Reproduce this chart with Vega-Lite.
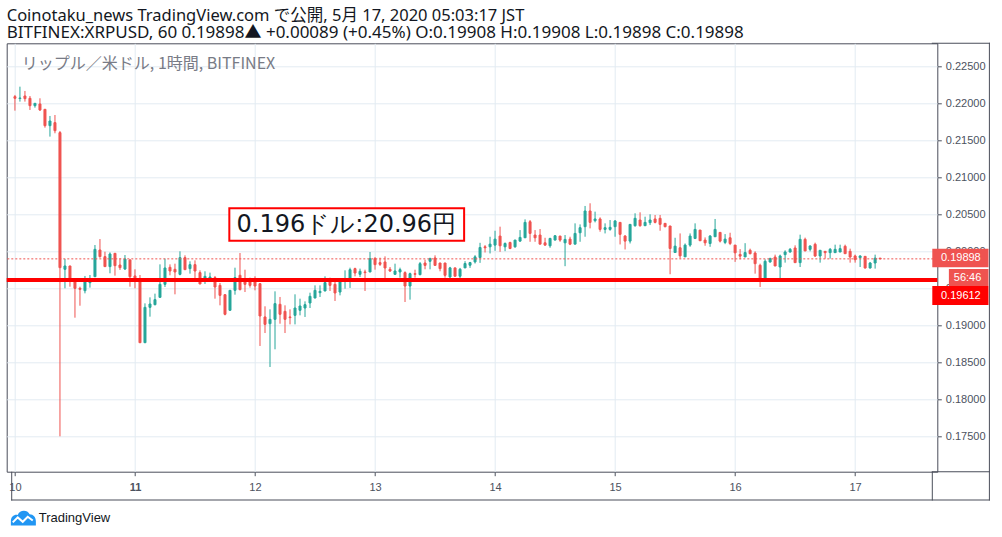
{
  "$schema": "https://vega.github.io/schema/vega-lite/v6.json",
  "description": "XRPUSD 1h candles, Bitfinex, 10-17 May 2020",
  "autosize": "none",
  "width": 930.6,
  "height": 428.4,
  "padding": {"left": 6.7, "top": 43.3, "right": 64.7, "bottom": 65.3},
  "background": "white",
  "title": {
    "text": "Coinotaku_news TradingView.com で公開, 5月 17, 2020 05:03:17 JST",
    "subtitle": "BITFINEX:XRPUSD, 60 0.19898▲ +0.00089 (+0.45%) O:0.19908 H:0.19908 L:0.19898 C:0.19898",
    "anchor": "start",
    "frame": "group",
    "font": "Noto Sans, Noto Sans CJK JP",
    "fontSize": 16.5,
    "fontWeight": "normal",
    "color": "#131722",
    "subtitleFont": "Noto Sans, Noto Sans CJK JP",
    "subtitleFontSize": 17,
    "subtitleColor": "#131722",
    "subtitlePadding": 0,
    "offset": 2
  },
  "config": {
    "view": {"stroke": "#4a4e5a", "strokeWidth": 1},
    "axis": {
      "labelFont": "Liberation Sans",
      "labelFontSize": 11,
      "labelColor": "#4c525e",
      "tickColor": "#4c525e",
      "gridColor": "#e3ebf2",
      "domain": false
    }
  },
  "datasets": {
    "candles": [
      {"t": "2020-05-10T00:00", "o": 0.2209, "h": 0.22113, "l": 0.21901, "c": 0.22068},
      {"t": "2020-05-10T01:00", "o": 0.22065, "h": 0.22225, "l": 0.22023, "c": 0.22072},
      {"t": "2020-05-10T02:00", "o": 0.22099, "h": 0.22167, "l": 0.22023, "c": 0.22063},
      {"t": "2020-05-10T03:00", "o": 0.22068, "h": 0.22099, "l": 0.2191, "c": 0.21968},
      {"t": "2020-05-10T04:00", "o": 0.21968, "h": 0.22002, "l": 0.21941, "c": 0.22},
      {"t": "2020-05-10T05:00", "o": 0.21991, "h": 0.22068, "l": 0.21896, "c": 0.2191},
      {"t": "2020-05-10T06:00", "o": 0.21919, "h": 0.21921, "l": 0.21671, "c": 0.21698},
      {"t": "2020-05-10T07:00", "o": 0.21698, "h": 0.21829, "l": 0.2155, "c": 0.21761},
      {"t": "2020-05-10T08:00", "o": 0.21739, "h": 0.21842, "l": 0.21595, "c": 0.2163},
      {"t": "2020-05-10T09:00", "o": 0.21604, "h": 0.21626, "l": 0.175, "c": 0.19779},
      {"t": "2020-05-10T10:00", "o": 0.19757, "h": 0.19896, "l": 0.195, "c": 0.19802},
      {"t": "2020-05-10T11:00", "o": 0.19802, "h": 0.19804, "l": 0.19522, "c": 0.19626},
      {"t": "2020-05-10T12:00", "o": 0.19626, "h": 0.19628, "l": 0.19103, "c": 0.195},
      {"t": "2020-05-10T13:00", "o": 0.195, "h": 0.19522, "l": 0.19265, "c": 0.19486},
      {"t": "2020-05-10T14:00", "o": 0.19468, "h": 0.19667, "l": 0.19432, "c": 0.1959},
      {"t": "2020-05-10T15:00", "o": 0.19576, "h": 0.1968, "l": 0.19509, "c": 0.1959},
      {"t": "2020-05-10T16:00", "o": 0.19657, "h": 0.20085, "l": 0.19655, "c": 0.20027},
      {"t": "2020-05-10T17:00", "o": 0.20018, "h": 0.20166, "l": 0.19914, "c": 0.19928},
      {"t": "2020-05-10T18:00", "o": 0.19928, "h": 0.19995, "l": 0.19791, "c": 0.19793},
      {"t": "2020-05-10T19:00", "o": 0.19793, "h": 0.19986, "l": 0.19703, "c": 0.19964},
      {"t": "2020-05-10T20:00", "o": 0.19973, "h": 0.19975, "l": 0.19671, "c": 0.19806},
      {"t": "2020-05-10T21:00", "o": 0.19815, "h": 0.19905, "l": 0.19748, "c": 0.19779},
      {"t": "2020-05-10T22:00", "o": 0.19761, "h": 0.1995, "l": 0.19748, "c": 0.19896},
      {"t": "2020-05-10T23:00", "o": 0.19883, "h": 0.19896, "l": 0.19522, "c": 0.19657},
      {"t": "2020-05-11T00:00", "o": 0.19667, "h": 0.19757, "l": 0.195, "c": 0.19612},
      {"t": "2020-05-11T01:00", "o": 0.19612, "h": 0.1968, "l": 0.18765, "c": 0.18765},
      {"t": "2020-05-11T02:00", "o": 0.18765, "h": 0.19297, "l": 0.18763, "c": 0.19243},
      {"t": "2020-05-11T03:00", "o": 0.19243, "h": 0.19378, "l": 0.19117, "c": 0.19288},
      {"t": "2020-05-11T04:00", "o": 0.19279, "h": 0.19428, "l": 0.1927, "c": 0.19347},
      {"t": "2020-05-11T05:00", "o": 0.19378, "h": 0.19824, "l": 0.19376, "c": 0.19554},
      {"t": "2020-05-11T06:00", "o": 0.19554, "h": 0.19901, "l": 0.19518, "c": 0.19775},
      {"t": "2020-05-11T07:00", "o": 0.19784, "h": 0.19824, "l": 0.19676, "c": 0.19734},
      {"t": "2020-05-11T08:00", "o": 0.19757, "h": 0.19833, "l": 0.19419, "c": 0.19721},
      {"t": "2020-05-11T09:00", "o": 0.19689, "h": 0.2, "l": 0.19676, "c": 0.19914},
      {"t": "2020-05-11T10:00", "o": 0.19914, "h": 0.19946, "l": 0.1975, "c": 0.19752},
      {"t": "2020-05-11T11:00", "o": 0.19766, "h": 0.19865, "l": 0.19698, "c": 0.1982},
      {"t": "2020-05-11T12:00", "o": 0.1982, "h": 0.19878, "l": 0.19631, "c": 0.19734},
      {"t": "2020-05-11T13:00", "o": 0.19712, "h": 0.19743, "l": 0.19557, "c": 0.19559},
      {"t": "2020-05-11T14:00", "o": 0.19617, "h": 0.1973, "l": 0.19559, "c": 0.19662},
      {"t": "2020-05-11T15:00", "o": 0.1964, "h": 0.19712, "l": 0.19631, "c": 0.19653},
      {"t": "2020-05-11T16:00", "o": 0.19644, "h": 0.19667, "l": 0.1936, "c": 0.19518},
      {"t": "2020-05-11T17:00", "o": 0.1954, "h": 0.19572, "l": 0.1927, "c": 0.19405},
      {"t": "2020-05-11T18:00", "o": 0.19414, "h": 0.19416, "l": 0.19135, "c": 0.19149},
      {"t": "2020-05-11T19:00", "o": 0.19203, "h": 0.19475, "l": 0.19201, "c": 0.19473},
      {"t": "2020-05-11T20:00", "o": 0.19473, "h": 0.19779, "l": 0.19414, "c": 0.19644},
      {"t": "2020-05-11T21:00", "o": 0.19676, "h": 0.19977, "l": 0.19473, "c": 0.19482},
      {"t": "2020-05-11T22:00", "o": 0.19631, "h": 0.19752, "l": 0.1945, "c": 0.19554},
      {"t": "2020-05-11T23:00", "o": 0.19599, "h": 0.19644, "l": 0.19509, "c": 0.1954},
      {"t": "2020-05-12T00:00", "o": 0.19599, "h": 0.19662, "l": 0.19473, "c": 0.19531},
      {"t": "2020-05-12T01:00", "o": 0.19563, "h": 0.19565, "l": 0.18721, "c": 0.19126},
      {"t": "2020-05-12T02:00", "o": 0.19113, "h": 0.19257, "l": 0.18896, "c": 0.19013},
      {"t": "2020-05-12T03:00", "o": 0.19022, "h": 0.19216, "l": 0.18437, "c": 0.19081},
      {"t": "2020-05-12T04:00", "o": 0.19081, "h": 0.19459, "l": 0.18676, "c": 0.19293},
      {"t": "2020-05-12T05:00", "o": 0.19284, "h": 0.19383, "l": 0.19022, "c": 0.19149},
      {"t": "2020-05-12T06:00", "o": 0.19189, "h": 0.1927, "l": 0.18896, "c": 0.19081},
      {"t": "2020-05-12T07:00", "o": 0.19113, "h": 0.19216, "l": 0.19013, "c": 0.19104},
      {"t": "2020-05-12T08:00", "o": 0.19135, "h": 0.19419, "l": 0.19013, "c": 0.19234},
      {"t": "2020-05-12T09:00", "o": 0.19203, "h": 0.1936, "l": 0.19135, "c": 0.19261},
      {"t": "2020-05-12T10:00", "o": 0.19234, "h": 0.19324, "l": 0.19113, "c": 0.19279},
      {"t": "2020-05-12T11:00", "o": 0.19302, "h": 0.19441, "l": 0.19234, "c": 0.19392},
      {"t": "2020-05-12T12:00", "o": 0.19369, "h": 0.1954, "l": 0.19367, "c": 0.19473},
      {"t": "2020-05-12T13:00", "o": 0.19441, "h": 0.1954, "l": 0.19383, "c": 0.19459},
      {"t": "2020-05-12T14:00", "o": 0.19464, "h": 0.19662, "l": 0.19462, "c": 0.19577},
      {"t": "2020-05-12T15:00", "o": 0.19586, "h": 0.19644, "l": 0.19464, "c": 0.1954},
      {"t": "2020-05-12T16:00", "o": 0.19554, "h": 0.19586, "l": 0.19329, "c": 0.19437},
      {"t": "2020-05-12T17:00", "o": 0.1945, "h": 0.19588, "l": 0.19405, "c": 0.19586},
      {"t": "2020-05-12T18:00", "o": 0.196, "h": 0.19743, "l": 0.19495, "c": 0.1961},
      {"t": "2020-05-12T19:00", "o": 0.19631, "h": 0.19779, "l": 0.19505, "c": 0.19752},
      {"t": "2020-05-12T20:00", "o": 0.19766, "h": 0.19779, "l": 0.19662, "c": 0.19707},
      {"t": "2020-05-12T21:00", "o": 0.19689, "h": 0.19766, "l": 0.19653, "c": 0.1973},
      {"t": "2020-05-12T22:00", "o": 0.19721, "h": 0.19752, "l": 0.19464, "c": 0.19712},
      {"t": "2020-05-12T23:00", "o": 0.19721, "h": 0.19991, "l": 0.19719, "c": 0.19901},
      {"t": "2020-05-13T00:00", "o": 0.19901, "h": 0.19923, "l": 0.19752, "c": 0.1982},
      {"t": "2020-05-13T01:00", "o": 0.19847, "h": 0.19914, "l": 0.19802, "c": 0.19824},
      {"t": "2020-05-13T02:00", "o": 0.19856, "h": 0.19932, "l": 0.1964, "c": 0.19775},
      {"t": "2020-05-13T03:00", "o": 0.19757, "h": 0.19788, "l": 0.19721, "c": 0.19734},
      {"t": "2020-05-13T04:00", "o": 0.19689, "h": 0.19833, "l": 0.19687, "c": 0.19734},
      {"t": "2020-05-13T05:00", "o": 0.19721, "h": 0.19779, "l": 0.19644, "c": 0.19752},
      {"t": "2020-05-13T06:00", "o": 0.19712, "h": 0.1973, "l": 0.19315, "c": 0.19531},
      {"t": "2020-05-13T07:00", "o": 0.19531, "h": 0.19712, "l": 0.19347, "c": 0.19698},
      {"t": "2020-05-13T08:00", "o": 0.19698, "h": 0.19752, "l": 0.19644, "c": 0.19689},
      {"t": "2020-05-13T09:00", "o": 0.19685, "h": 0.19856, "l": 0.19676, "c": 0.19833},
      {"t": "2020-05-13T10:00", "o": 0.19842, "h": 0.19887, "l": 0.19757, "c": 0.1981},
      {"t": "2020-05-13T11:00", "o": 0.19865, "h": 0.19914, "l": 0.19757, "c": 0.19901},
      {"t": "2020-05-13T12:00", "o": 0.1991, "h": 0.19946, "l": 0.19808, "c": 0.1981},
      {"t": "2020-05-13T13:00", "o": 0.19842, "h": 0.19844, "l": 0.1973, "c": 0.19766},
      {"t": "2020-05-13T14:00", "o": 0.19842, "h": 0.19844, "l": 0.19644, "c": 0.19676},
      {"t": "2020-05-13T15:00", "o": 0.19654, "h": 0.1979, "l": 0.19631, "c": 0.19776},
      {"t": "2020-05-13T16:00", "o": 0.19776, "h": 0.19778, "l": 0.19661, "c": 0.19663},
      {"t": "2020-05-13T17:00", "o": 0.19663, "h": 0.19776, "l": 0.1964, "c": 0.19758},
      {"t": "2020-05-13T18:00", "o": 0.19776, "h": 0.19867, "l": 0.19774, "c": 0.19835},
      {"t": "2020-05-13T19:00", "o": 0.19812, "h": 0.19857, "l": 0.19776, "c": 0.19848},
      {"t": "2020-05-13T20:00", "o": 0.19857, "h": 0.19948, "l": 0.19835, "c": 0.19925},
      {"t": "2020-05-13T21:00", "o": 0.19916, "h": 0.20115, "l": 0.19844, "c": 0.20052},
      {"t": "2020-05-13T22:00", "o": 0.20061, "h": 0.20084, "l": 0.19984, "c": 0.20048},
      {"t": "2020-05-13T23:00", "o": 0.20061, "h": 0.20197, "l": 0.19971, "c": 0.20097},
      {"t": "2020-05-14T00:00", "o": 0.20084, "h": 0.20278, "l": 0.20007, "c": 0.20165},
      {"t": "2020-05-14T01:00", "o": 0.20206, "h": 0.20333, "l": 0.19993, "c": 0.20075},
      {"t": "2020-05-14T02:00", "o": 0.20061, "h": 0.2012, "l": 0.20002, "c": 0.20106},
      {"t": "2020-05-14T03:00", "o": 0.2012, "h": 0.20129, "l": 0.20029, "c": 0.20038},
      {"t": "2020-05-14T04:00", "o": 0.20061, "h": 0.20154, "l": 0.20048, "c": 0.20152},
      {"t": "2020-05-14T05:00", "o": 0.20138, "h": 0.20287, "l": 0.20129, "c": 0.20188},
      {"t": "2020-05-14T06:00", "o": 0.20183, "h": 0.20432, "l": 0.20181, "c": 0.20391},
      {"t": "2020-05-14T07:00", "o": 0.204, "h": 0.20423, "l": 0.20129, "c": 0.20242},
      {"t": "2020-05-14T08:00", "o": 0.2022, "h": 0.20287, "l": 0.20129, "c": 0.20183},
      {"t": "2020-05-14T09:00", "o": 0.2022, "h": 0.20301, "l": 0.20095, "c": 0.20097},
      {"t": "2020-05-14T10:00", "o": 0.20115, "h": 0.20183, "l": 0.20075, "c": 0.20084},
      {"t": "2020-05-14T11:00", "o": 0.20075, "h": 0.20183, "l": 0.20048, "c": 0.20174},
      {"t": "2020-05-14T12:00", "o": 0.20152, "h": 0.2022, "l": 0.2015, "c": 0.2021},
      {"t": "2020-05-14T13:00", "o": 0.20206, "h": 0.20208, "l": 0.20129, "c": 0.20152},
      {"t": "2020-05-14T14:00", "o": 0.20115, "h": 0.2022, "l": 0.19799, "c": 0.20161},
      {"t": "2020-05-14T15:00", "o": 0.20165, "h": 0.20197, "l": 0.20084, "c": 0.20097},
      {"t": "2020-05-14T16:00", "o": 0.20097, "h": 0.20378, "l": 0.20095, "c": 0.20242},
      {"t": "2020-05-14T17:00", "o": 0.20251, "h": 0.20364, "l": 0.20129, "c": 0.20319},
      {"t": "2020-05-14T18:00", "o": 0.20333, "h": 0.20613, "l": 0.20197, "c": 0.20545},
      {"t": "2020-05-14T19:00", "o": 0.20545, "h": 0.20649, "l": 0.2031, "c": 0.20391},
      {"t": "2020-05-14T20:00", "o": 0.20414, "h": 0.20536, "l": 0.20391, "c": 0.20437},
      {"t": "2020-05-14T21:00", "o": 0.20437, "h": 0.20459, "l": 0.20265, "c": 0.20296},
      {"t": "2020-05-14T22:00", "o": 0.20296, "h": 0.20378, "l": 0.20242, "c": 0.20319},
      {"t": "2020-05-14T23:00", "o": 0.20296, "h": 0.20423, "l": 0.20278, "c": 0.20324},
      {"t": "2020-05-15T00:00", "o": 0.20333, "h": 0.20423, "l": 0.20197, "c": 0.2041},
      {"t": "2020-05-15T01:00", "o": 0.20391, "h": 0.20393, "l": 0.20093, "c": 0.20229},
      {"t": "2020-05-15T02:00", "o": 0.20206, "h": 0.2022, "l": 0.20025, "c": 0.20138},
      {"t": "2020-05-15T03:00", "o": 0.20138, "h": 0.20366, "l": 0.20106, "c": 0.20364},
      {"t": "2020-05-15T04:00", "o": 0.20346, "h": 0.20514, "l": 0.20333, "c": 0.20446},
      {"t": "2020-05-15T05:00", "o": 0.20423, "h": 0.20527, "l": 0.20333, "c": 0.20346},
      {"t": "2020-05-15T06:00", "o": 0.20346, "h": 0.20468, "l": 0.20344, "c": 0.20391},
      {"t": "2020-05-15T07:00", "o": 0.20387, "h": 0.205, "l": 0.20355, "c": 0.20423},
      {"t": "2020-05-15T08:00", "o": 0.20437, "h": 0.20491, "l": 0.20378, "c": 0.20391},
      {"t": "2020-05-15T09:00", "o": 0.20446, "h": 0.20491, "l": 0.20278, "c": 0.20364},
      {"t": "2020-05-15T10:00", "o": 0.20378, "h": 0.2038, "l": 0.20324, "c": 0.20333},
      {"t": "2020-05-15T11:00", "o": 0.20342, "h": 0.20344, "l": 0.1969, "c": 0.20038},
      {"t": "2020-05-15T12:00", "o": 0.19984, "h": 0.20183, "l": 0.19982, "c": 0.2007},
      {"t": "2020-05-15T13:00", "o": 0.20048, "h": 0.20242, "l": 0.19903, "c": 0.19939},
      {"t": "2020-05-15T14:00", "o": 0.19925, "h": 0.20106, "l": 0.19923, "c": 0.20084},
      {"t": "2020-05-15T15:00", "o": 0.20084, "h": 0.20242, "l": 0.20061, "c": 0.20206},
      {"t": "2020-05-15T16:00", "o": 0.20174, "h": 0.20378, "l": 0.20165, "c": 0.20296},
      {"t": "2020-05-15T17:00", "o": 0.20287, "h": 0.20289, "l": 0.20141, "c": 0.20143},
      {"t": "2020-05-15T18:00", "o": 0.20152, "h": 0.20188, "l": 0.20075, "c": 0.20115},
      {"t": "2020-05-15T19:00", "o": 0.20106, "h": 0.2022, "l": 0.20061, "c": 0.20206},
      {"t": "2020-05-15T20:00", "o": 0.20197, "h": 0.20437, "l": 0.20195, "c": 0.20296},
      {"t": "2020-05-15T21:00", "o": 0.20256, "h": 0.20258, "l": 0.2012, "c": 0.20138},
      {"t": "2020-05-15T22:00", "o": 0.2012, "h": 0.20233, "l": 0.20097, "c": 0.20165},
      {"t": "2020-05-15T23:00", "o": 0.20183, "h": 0.20251, "l": 0.20084, "c": 0.20106},
      {"t": "2020-05-16T00:00", "o": 0.20084, "h": 0.20086, "l": 0.19857, "c": 0.1998},
      {"t": "2020-05-16T01:00", "o": 0.19958, "h": 0.2003, "l": 0.19893, "c": 0.19935},
      {"t": "2020-05-16T02:00", "o": 0.19924, "h": 0.2011, "l": 0.19922, "c": 0.19983},
      {"t": "2020-05-16T03:00", "o": 0.20014, "h": 0.20036, "l": 0.19959, "c": 0.19968},
      {"t": "2020-05-16T04:00", "o": 0.19977, "h": 0.2, "l": 0.19698, "c": 0.19833},
      {"t": "2020-05-16T05:00", "o": 0.19811, "h": 0.19833, "l": 0.19518, "c": 0.19631},
      {"t": "2020-05-16T06:00", "o": 0.19631, "h": 0.19892, "l": 0.19629, "c": 0.19865},
      {"t": "2020-05-16T07:00", "o": 0.19856, "h": 0.19914, "l": 0.19847, "c": 0.19901},
      {"t": "2020-05-16T08:00", "o": 0.19923, "h": 0.19955, "l": 0.198, "c": 0.19802},
      {"t": "2020-05-16T09:00", "o": 0.19788, "h": 0.19955, "l": 0.19631, "c": 0.19937},
      {"t": "2020-05-16T10:00", "o": 0.19955, "h": 0.20014, "l": 0.19847, "c": 0.19991},
      {"t": "2020-05-16T11:00", "o": 0.19991, "h": 0.20045, "l": 0.19982, "c": 0.20027},
      {"t": "2020-05-16T12:00", "o": 0.20045, "h": 0.20081, "l": 0.19845, "c": 0.19847},
      {"t": "2020-05-16T13:00", "o": 0.19847, "h": 0.20225, "l": 0.19788, "c": 0.20162},
      {"t": "2020-05-16T14:00", "o": 0.20162, "h": 0.20185, "l": 0.20003, "c": 0.20005},
      {"t": "2020-05-16T15:00", "o": 0.20027, "h": 0.20081, "l": 0.2, "c": 0.20072},
      {"t": "2020-05-16T16:00", "o": 0.20095, "h": 0.20117, "l": 0.19923, "c": 0.19937},
      {"t": "2020-05-16T17:00", "o": 0.19937, "h": 0.20016, "l": 0.19847, "c": 0.20014},
      {"t": "2020-05-16T18:00", "o": 0.2, "h": 0.20002, "l": 0.19901, "c": 0.19982},
      {"t": "2020-05-16T19:00", "o": 0.19982, "h": 0.20045, "l": 0.19901, "c": 0.20027},
      {"t": "2020-05-16T20:00", "o": 0.19982, "h": 0.2009, "l": 0.1998, "c": 0.20027},
      {"t": "2020-05-16T21:00", "o": 0.19991, "h": 0.2009, "l": 0.19989, "c": 0.20036},
      {"t": "2020-05-16T22:00", "o": 0.20068, "h": 0.2009, "l": 0.19966, "c": 0.19968},
      {"t": "2020-05-16T23:00", "o": 0.2, "h": 0.20036, "l": 0.19847, "c": 0.19923},
      {"t": "2020-05-17T00:00", "o": 0.19937, "h": 0.19955, "l": 0.19847, "c": 0.19887},
      {"t": "2020-05-17T01:00", "o": 0.19914, "h": 0.19946, "l": 0.19788, "c": 0.19937},
      {"t": "2020-05-17T02:00", "o": 0.19932, "h": 0.19934, "l": 0.19766, "c": 0.19775},
      {"t": "2020-05-17T03:00", "o": 0.19775, "h": 0.19856, "l": 0.19766, "c": 0.19842},
      {"t": "2020-05-17T04:00", "o": 0.19842, "h": 0.19955, "l": 0.19766, "c": 0.19908},
      {"t": "2020-05-17T05:00", "o": 0.19908, "h": 0.19908, "l": 0.19898, "c": 0.19898}
    ],
    "one": [{}]
  },
  "layer": [
    {
      "data": {"name": "candles"},
      "mark": {"type": "rule", "strokeWidth": 1},
      "encoding": {
        "x": {
          "field": "t",
          "type": "temporal",
          "title": null,
          "scale": {
            "domain": [
              {"year": 2020, "month": 5, "date": 9, "hours": 23, "minutes": 21},
              {"year": 2020, "month": 5, "date": 17, "hours": 15, "minutes": 26}
            ],
            "nice": false
          },
          "axis": {
            "orient": "bottom",
            "format": "%-d",
            "tickCount": {"interval": "day", "step": 1},
            "tickSize": 4,
            "labelPadding": 6,
            "labelFlush": false,
            "labelOverlap": false,
            "labelFontWeight": {"condition": {"test": "date(datum.value) == 11", "value": "bold"}, "value": "normal"},
            "grid": true
          }
        },
        "y": {
          "field": "l",
          "type": "quantitative",
          "title": null,
          "scale": {"domain": [0.17022, 0.22811], "nice": false, "zero": false},
          "axis": {
            "orient": "right",
            "values": [0.175, 0.18, 0.185, 0.19, 0.195, 0.2, 0.205, 0.21, 0.215, 0.22, 0.225],
            "format": ".5f",
            "tickSize": 4,
            "labelPadding": 4,
            "grid": true
          }
        },
        "y2": {"field": "h"},
        "color": {"condition": {"test": "datum.c < datum.o", "value": "#ef5350"}, "value": "#26a69a"}
      }
    },
    {
      "data": {"name": "candles"},
      "mark": {"type": "bar", "size": 2, "strokeWidth": 1},
      "encoding": {
        "x": {"field": "t", "type": "temporal"},
        "y": {"field": "o", "type": "quantitative"},
        "y2": {"field": "c"},
        "fill": {"condition": {"test": "datum.c < datum.o", "value": "#ef5350"}, "value": "#26a69a"},
        "stroke": {"condition": {"test": "datum.c < datum.o", "value": "#ef5350"}, "value": "#26a69a"}
      }
    },
    {
      "data": {"name": "one"},
      "mark": {"type": "rule", "stroke": "#ef5350", "strokeWidth": 1, "strokeDash": [2, 2]},
      "encoding": {"y": {"datum": 0.19898, "type": "quantitative"}}
    },
    {
      "data": {"name": "one"},
      "mark": {"type": "rule", "stroke": "#ff0000", "strokeWidth": 4},
      "encoding": {"y": {"datum": 0.19612, "type": "quantitative"}}
    },
    {
      "data": {"name": "one"},
      "mark": {"type": "text", "align": "left", "baseline": "middle", "font": "Noto Sans CJK JP", "fontSize": 16, "color": "#787b86", "text": "リップル／米ドル, 1時間, BITFINEX"},
      "encoding": {
        "x": {"datum": {"year": 2020, "month": 5, "date": 10, "hours": 1, "minutes": 23}, "type": "temporal"},
        "y": {"datum": 0.22531, "type": "quantitative"}
      }
    },
    {
      "data": {"name": "one"},
      "mark": {"type": "rect", "fill": "white", "stroke": "#ff0000", "strokeWidth": 2},
      "encoding": {
        "x": {"datum": {"year": 2020, "month": 5, "date": 11, "hours": 18, "minutes": 52}, "type": "temporal"},
        "x2": {"datum": {"year": 2020, "month": 5, "date": 13, "hours": 17, "minutes": 49}},
        "y": {"datum": 0.20581, "type": "quantitative"},
        "y2": {"datum": 0.20143}
      }
    },
    {
      "data": {"name": "one"},
      "mark": {"type": "text", "align": "center", "baseline": "middle", "font": "DejaVu Sans", "fontSize": 24, "color": "#131722", "text": "0.196ドル:20.96円"},
      "encoding": {
        "x": {"datum": {"year": 2020, "month": 5, "date": 12, "hours": 18, "minutes": 16}, "type": "temporal"},
        "y": {"datum": 0.20362, "type": "quantitative"}
      }
    },
    {
      "data": {"name": "one"},
      "mark": {"type": "rect", "fill": "#4a4e5a"},
      "encoding": {
        "x": {"datum": {"year": 2020, "month": 5, "date": 17, "hours": 15, "minutes": 20}, "type": "temporal"},
        "x2": {"datum": {"year": 2020, "month": 5, "date": 18, "hours": 2, "minutes": 57}},
        "y": {"datum": 0.22818, "type": "quantitative"},
        "y2": {"datum": 0.22804}
      }
    },
    {
      "data": {"name": "one"},
      "mark": {"type": "rect", "fill": "#4a4e5a"},
      "encoding": {
        "x": {"datum": {"year": 2020, "month": 5, "date": 17, "hours": 15, "minutes": 20}, "type": "temporal"},
        "x2": {"datum": {"year": 2020, "month": 5, "date": 18, "hours": 2, "minutes": 57}},
        "y": {"datum": 0.17029, "type": "quantitative"},
        "y2": {"datum": 0.17015}
      }
    },
    {
      "data": {"name": "one"},
      "mark": {"type": "rect", "fill": "#4a4e5a"},
      "encoding": {
        "x": {"datum": {"year": 2020, "month": 5, "date": 9, "hours": 23, "minutes": 15}, "type": "temporal"},
        "x2": {"datum": {"year": 2020, "month": 5, "date": 18, "hours": 2, "minutes": 57}},
        "y": {"datum": 0.16646, "type": "quantitative"},
        "y2": {"datum": 0.16632}
      }
    },
    {
      "data": {"name": "one"},
      "mark": {"type": "rect", "fill": "#4a4e5a"},
      "encoding": {
        "x": {"datum": {"year": 2020, "month": 5, "date": 18, "hours": 2, "minutes": 45}, "type": "temporal"},
        "x2": {"datum": {"year": 2020, "month": 5, "date": 18, "hours": 2, "minutes": 57}},
        "y": {"datum": 0.22818, "type": "quantitative"},
        "y2": {"datum": 0.16632}
      }
    },
    {
      "data": {"name": "one"},
      "mark": {"type": "rect", "fill": "#4a4e5a"},
      "encoding": {
        "x": {"datum": {"year": 2020, "month": 5, "date": 9, "hours": 23, "minutes": 15}, "type": "temporal"},
        "x2": {"datum": {"year": 2020, "month": 5, "date": 9, "hours": 23, "minutes": 27}},
        "y": {"datum": 0.17022, "type": "quantitative"},
        "y2": {"datum": 0.16632}
      }
    },
    {
      "data": {"name": "one"},
      "mark": {"type": "rect", "fill": "#4a4e5a"},
      "encoding": {
        "x": {"datum": {"year": 2020, "month": 5, "date": 17, "hours": 15, "minutes": 20}, "type": "temporal"},
        "x2": {"datum": {"year": 2020, "month": 5, "date": 17, "hours": 15, "minutes": 32}},
        "y": {"datum": 0.17022, "type": "quantitative"},
        "y2": {"datum": 0.16632}
      }
    },
    {
      "data": {"name": "one"},
      "mark": {"type": "rect", "fill": "#ef5350"},
      "encoding": {
        "x": {"datum": {"year": 2020, "month": 5, "date": 17, "hours": 15, "minutes": 26}, "type": "temporal"},
        "x2": {"datum": {"year": 2020, "month": 5, "date": 18, "hours": 2, "minutes": 40}},
        "y": {"datum": 0.20034, "type": "quantitative"},
        "y2": {"datum": 0.19786}
      }
    },
    {
      "data": {"name": "one"},
      "mark": {"type": "rect", "fill": "#ef5350"},
      "encoding": {
        "x": {"datum": {"year": 2020, "month": 5, "date": 17, "hours": 18, "minutes": 45}, "type": "temporal"},
        "x2": {"datum": {"year": 2020, "month": 5, "date": 18, "hours": 2, "minutes": 40}},
        "y": {"datum": 0.19761, "type": "quantitative"},
        "y2": {"datum": 0.19531}
      }
    },
    {
      "data": {"name": "one"},
      "mark": {"type": "rect", "fill": "#ff0000"},
      "encoding": {
        "x": {"datum": {"year": 2020, "month": 5, "date": 17, "hours": 15, "minutes": 26}, "type": "temporal"},
        "x2": {"datum": {"year": 2020, "month": 5, "date": 18, "hours": 2, "minutes": 40}},
        "y": {"datum": 0.19531, "type": "quantitative"},
        "y2": {"datum": 0.19276}
      }
    },
    {
      "data": {"name": "one"},
      "mark": {"type": "text", "align": "left", "baseline": "middle", "font": "Liberation Sans", "fontSize": 11, "color": "white", "text": "0.19898"},
      "encoding": {
        "x": {"datum": {"year": 2020, "month": 5, "date": 17, "hours": 17, "minutes": 10}, "type": "temporal"},
        "y": {"datum": 0.19907, "type": "quantitative"}
      }
    },
    {
      "data": {"name": "one"},
      "mark": {"type": "text", "align": "left", "baseline": "middle", "font": "Liberation Sans", "fontSize": 11, "color": "white", "text": "56:46"},
      "encoding": {
        "x": {"datum": {"year": 2020, "month": 5, "date": 17, "hours": 19, "minutes": 44}, "type": "temporal"},
        "y": {"datum": 0.19646, "type": "quantitative"}
      }
    },
    {
      "data": {"name": "one"},
      "mark": {"type": "text", "align": "left", "baseline": "middle", "font": "Liberation Sans", "fontSize": 11, "color": "white", "text": "0.19612"},
      "encoding": {
        "x": {"datum": {"year": 2020, "month": 5, "date": 17, "hours": 17, "minutes": 10}, "type": "temporal"},
        "y": {"datum": 0.19403, "type": "quantitative"}
      }
    },
    {
      "data": {"name": "one"},
      "mark": {
        "type": "point",
        "filled": true,
        "size": 625,
        "color": "#2196f3",
        "opacity": 1,
        "shape": "M-1,0.6L-1,0.25C-1,-0.1 -0.75,-0.3 -0.45,-0.25C-0.3,-0.65 0.3,-0.7 0.5,-0.3C0.8,-0.3 1,-0.05 1,0.25L1,0.6Z"
      },
      "encoding": {
        "x": {"datum": {"year": 2020, "month": 5, "date": 10, "hours": 1, "minutes": 41}, "type": "temporal"},
        "y": {"datum": 0.16396, "type": "quantitative"}
      }
    },
    {
      "data": {"name": "one"},
      "mark": {
        "type": "point",
        "filled": false,
        "size": 625,
        "stroke": "white",
        "strokeWidth": 2,
        "opacity": 1,
        "shape": "M-0.85,0.35L-0.45,-0.05L-0.05,0.3L0.35,-0.1L0.75,0.2"
      },
      "encoding": {
        "x": {"datum": {"year": 2020, "month": 5, "date": 10, "hours": 1, "minutes": 41}, "type": "temporal"},
        "y": {"datum": 0.16396, "type": "quantitative"}
      }
    },
    {
      "data": {"name": "one"},
      "mark": {"type": "text", "align": "left", "baseline": "middle", "font": "Liberation Sans", "fontSize": 13, "color": "#131722", "text": "TradingView"},
      "encoding": {
        "x": {"datum": {"year": 2020, "month": 5, "date": 10, "hours": 4, "minutes": 45}, "type": "temporal"},
        "y": {"datum": 0.16396, "type": "quantitative"}
      }
    }
  ]
}
